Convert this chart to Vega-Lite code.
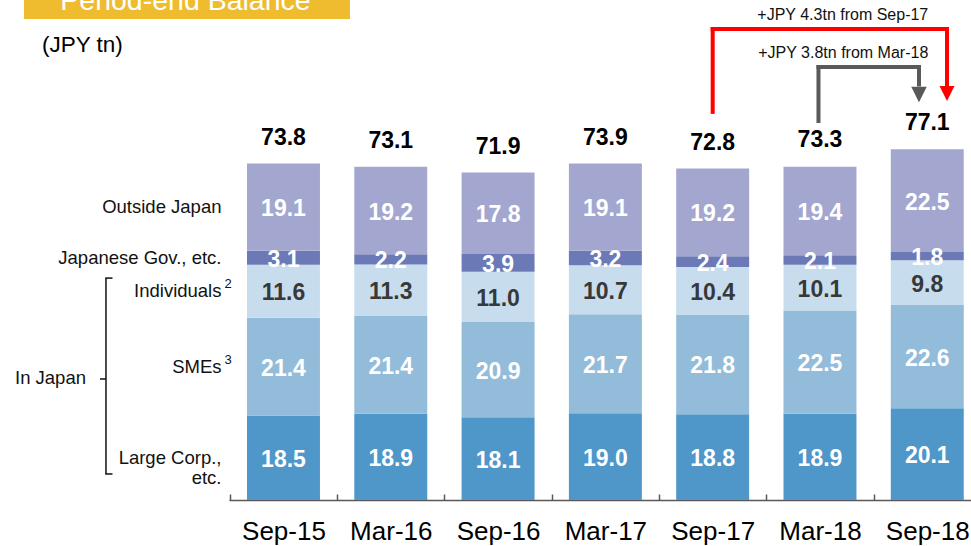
{
  "$schema": "https://vega.github.io/schema/vega-lite/v6.json",
  "width": 742,
  "height": 500,
  "autosize": {"type": "none"},
  "padding": {"left": 229, "top": 0, "right": 0, "bottom": 46},
  "background": "white",
  "config": {"view": {"stroke": null}, "font": "Liberation Sans", "text": {"font": "Liberation Sans"}},
  "datasets": {
    "balance": [
      {"period": "Sep-15", "segment": "Large Corp.,\netc.", "rank": 1, "value": 18.5},
      {"period": "Sep-15", "segment": "SMEs", "rank": 2, "value": 21.4, "note": "3"},
      {"period": "Sep-15", "segment": "Individuals", "rank": 3, "value": 11.6, "note": "2"},
      {"period": "Sep-15", "segment": "Japanese Gov., etc.", "rank": 4, "value": 3.1},
      {"period": "Sep-15", "segment": "Outside Japan", "rank": 5, "value": 19.1},
      {"period": "Mar-16", "segment": "Large Corp.,\netc.", "rank": 1, "value": 18.9},
      {"period": "Mar-16", "segment": "SMEs", "rank": 2, "value": 21.4},
      {"period": "Mar-16", "segment": "Individuals", "rank": 3, "value": 11.3},
      {"period": "Mar-16", "segment": "Japanese Gov., etc.", "rank": 4, "value": 2.2},
      {"period": "Mar-16", "segment": "Outside Japan", "rank": 5, "value": 19.2},
      {"period": "Sep-16", "segment": "Large Corp.,\netc.", "rank": 1, "value": 18.1},
      {"period": "Sep-16", "segment": "SMEs", "rank": 2, "value": 20.9},
      {"period": "Sep-16", "segment": "Individuals", "rank": 3, "value": 11.0},
      {"period": "Sep-16", "segment": "Japanese Gov., etc.", "rank": 4, "value": 3.9},
      {"period": "Sep-16", "segment": "Outside Japan", "rank": 5, "value": 17.8},
      {"period": "Mar-17", "segment": "Large Corp.,\netc.", "rank": 1, "value": 19.0},
      {"period": "Mar-17", "segment": "SMEs", "rank": 2, "value": 21.7},
      {"period": "Mar-17", "segment": "Individuals", "rank": 3, "value": 10.7},
      {"period": "Mar-17", "segment": "Japanese Gov., etc.", "rank": 4, "value": 3.2},
      {"period": "Mar-17", "segment": "Outside Japan", "rank": 5, "value": 19.1},
      {"period": "Sep-17", "segment": "Large Corp.,\netc.", "rank": 1, "value": 18.8},
      {"period": "Sep-17", "segment": "SMEs", "rank": 2, "value": 21.8},
      {"period": "Sep-17", "segment": "Individuals", "rank": 3, "value": 10.4},
      {"period": "Sep-17", "segment": "Japanese Gov., etc.", "rank": 4, "value": 2.4},
      {"period": "Sep-17", "segment": "Outside Japan", "rank": 5, "value": 19.2},
      {"period": "Mar-18", "segment": "Large Corp.,\netc.", "rank": 1, "value": 18.9},
      {"period": "Mar-18", "segment": "SMEs", "rank": 2, "value": 22.5},
      {"period": "Mar-18", "segment": "Individuals", "rank": 3, "value": 10.1},
      {"period": "Mar-18", "segment": "Japanese Gov., etc.", "rank": 4, "value": 2.1},
      {"period": "Mar-18", "segment": "Outside Japan", "rank": 5, "value": 19.4},
      {"period": "Sep-18", "segment": "Large Corp.,\netc.", "rank": 1, "value": 20.1},
      {"period": "Sep-18", "segment": "SMEs", "rank": 2, "value": 22.6},
      {"period": "Sep-18", "segment": "Individuals", "rank": 3, "value": 9.8},
      {"period": "Sep-18", "segment": "Japanese Gov., etc.", "rank": 4, "value": 1.8},
      {"period": "Sep-18", "segment": "Outside Japan", "rank": 5, "value": 22.5}
    ],
    "totals": [
      {"period": "Sep-15", "total": 73.8},
      {"period": "Mar-16", "total": 73.1},
      {"period": "Sep-16", "total": 71.9},
      {"period": "Mar-17", "total": 73.9},
      {"period": "Sep-17", "total": 72.8},
      {"period": "Mar-18", "total": 73.3},
      {"period": "Sep-18", "total": 77.1}
    ]
  },
  "layer": [
    {
      "data": {"name": "balance"},
      "mark": {"type": "bar"},
      "encoding": {
        "x": {"field": "period", "type": "nominal",
          "scale": {"domain": ["Sep-15","Mar-16","Sep-16","Mar-17","Sep-17","Mar-18","Sep-18"], "paddingInner": 0.32, "paddingOuter": 0.1176, "align": 0.713},
          "axis": {"title": null, "labelAngle": 0, "labelFont": "Liberation Sans", "labelFontSize": 26, "labelFontWeight": "normal", "labelColor": "#000000",
            "bandPosition": 0, "tickOffset": -17.17, "labelOffset": 17.17, "tickSize": -6, "tickWidth": 1.5, "tickColor": "#595959",
            "domainColor": "#595959", "domainWidth": 1.5, "labelPadding": 24}},
        "y": {"field": "value", "type": "quantitative", "stack": "zero", "scale": {"domain": [0, 109.5], "nice": false, "zero": false}, "axis": null},
        "color": {"field": "segment", "type": "nominal",
          "scale": {"domain": ["Large Corp.,\netc.", "SMEs", "Individuals", "Japanese Gov., etc.", "Outside Japan"],
                    "range": ["#4f96c9", "#93bcda", "#c7ddee", "#6b79b6", "#a3a7cf"]}, "legend": null},
        "order": {"field": "rank", "type": "quantitative"}
      }
    },
    {
      "data": {"name": "balance"},
      "mark": {"type": "text", "fontSize": 23, "fontWeight": "bold", "baseline": "middle", "dy": 2},
      "encoding": {
        "x": {"field": "period", "type": "nominal",
          "scale": {"domain": ["Sep-15","Mar-16","Sep-16","Mar-17","Sep-17","Mar-18","Sep-18"], "paddingInner": 0.32, "paddingOuter": 0.1176, "align": 0.713}},
        "y": {"field": "value", "type": "quantitative", "stack": "zero", "bandPosition": 0.5, "scale": {"domain": [0, 109.5], "nice": false, "zero": false}, "axis": null},
        "detail": {"field": "segment", "type": "nominal"},
        "order": {"field": "rank", "type": "quantitative"},
        "text": {"field": "value", "type": "quantitative", "format": ".1f"},
        "color": {"condition": {"test": "datum.segment === 'Individuals'", "value": "#383838"}, "value": "#ffffff"}
      }
    },
    {
      "data": {"name": "totals"},
      "mark": {"type": "text", "fontSize": 23, "fontWeight": "bold", "baseline": "middle", "dy": -25, "color": "#000000"},
      "encoding": {
        "x": {"field": "period", "type": "nominal",
          "scale": {"domain": ["Sep-15","Mar-16","Sep-16","Mar-17","Sep-17","Mar-18","Sep-18"], "paddingInner": 0.32, "paddingOuter": 0.1176, "align": 0.713}},
        "y": {"field": "total", "type": "quantitative", "scale": {"domain": [0, 109.5], "nice": false, "zero": false}, "axis": null},
        "text": {"field": "total", "type": "quantitative", "format": ".1f"}
      }
    },
    {
      "data": {"name": "balance"},
      "transform": [{"filter": "datum.period === 'Sep-15'"}],
      "mark": {"type": "text", "fontSize": 18.5, "align": "right", "baseline": "middle", "xOffset": -62, "lineBreak": "\n", "lineHeight": 20, "color": "#111111"},
      "encoding": {
        "x": {"field": "period", "type": "nominal",
          "scale": {"domain": ["Sep-15","Mar-16","Sep-16","Mar-17","Sep-17","Mar-18","Sep-18"], "paddingInner": 0.32, "paddingOuter": 0.1176, "align": 0.713}},
        "y": {"field": "value", "type": "quantitative", "stack": "zero", "bandPosition": 0.5, "scale": {"domain": [0, 109.5], "nice": false, "zero": false}, "axis": null},
        "detail": {"field": "segment", "type": "nominal"},
        "order": {"field": "rank", "type": "quantitative"},
        "text": {"field": "segment", "type": "nominal"}
      }
    },
    {
      "data": {"name": "balance"},
      "transform": [{"filter": "datum.period === 'Sep-15'"}],
      "mark": {"type": "text", "fontSize": 13, "align": "left", "baseline": "middle", "xOffset": -59, "dy": -7, "color": "#111111"},
      "encoding": {
        "x": {"field": "period", "type": "nominal",
          "scale": {"domain": ["Sep-15","Mar-16","Sep-16","Mar-17","Sep-17","Mar-18","Sep-18"], "paddingInner": 0.32, "paddingOuter": 0.1176, "align": 0.713}},
        "y": {"field": "value", "type": "quantitative", "stack": "zero", "bandPosition": 0.5, "scale": {"domain": [0, 109.5], "nice": false, "zero": false}, "axis": null},
        "detail": {"field": "segment", "type": "nominal"},
        "order": {"field": "rank", "type": "quantitative"},
        "text": {"condition": {"test": "datum.note", "field": "note"}, "value": ""}
      }
    },
    {
      "data": {"values": [{}]},
      "mark": {"type": "text", "text": "In Japan", "fontSize": 18.5, "align": "right", "baseline": "middle", "xOffset": -197.5, "color": "#111111"},
      "encoding": {
        "x": {"datum": "Sep-15", "type": "nominal",
          "scale": {"domain": ["Sep-15","Mar-16","Sep-16","Mar-17","Sep-17","Mar-18","Sep-18"], "paddingInner": 0.32, "paddingOuter": 0.1176, "align": 0.713}},
        "y": {"datum": 26.7, "type": "quantitative", "scale": {"domain": [0, 109.5], "nice": false, "zero": false}, "axis": null}
      }
    },
    {
      "data": {"values": [{}]},
      "mark": {"type": "rule", "color": "#111111", "strokeWidth": 1.5, "xOffset": -177.5},
      "encoding": {
        "x": {"datum": "Sep-15", "type": "nominal",
          "scale": {"domain": ["Sep-15","Mar-16","Sep-16","Mar-17","Sep-17","Mar-18","Sep-18"], "paddingInner": 0.32, "paddingOuter": 0.1176, "align": 0.713}},
        "y": {"datum": 48.6, "type": "quantitative", "scale": {"domain": [0, 109.5], "nice": false, "zero": false}, "axis": null},
        "y2": {"datum": 5.7}
      }
    },
    {
      "data": {"values": [{}]},
      "mark": {"type": "rule", "color": "#111111", "strokeWidth": 1.5, "xOffset": -178.2, "x2Offset": -171},
      "encoding": {
        "x": {"datum": "Sep-15", "type": "nominal",
          "scale": {"domain": ["Sep-15","Mar-16","Sep-16","Mar-17","Sep-17","Mar-18","Sep-18"], "paddingInner": 0.32, "paddingOuter": 0.1176, "align": 0.713}},
        "x2": {"datum": "Sep-15"},
        "y": {"datum": 48.6, "type": "quantitative", "scale": {"domain": [0, 109.5], "nice": false, "zero": false}, "axis": null}
      }
    },
    {
      "data": {"values": [{}]},
      "mark": {"type": "rule", "color": "#111111", "strokeWidth": 1.5, "xOffset": -178.2, "x2Offset": -171},
      "encoding": {
        "x": {"datum": "Sep-15", "type": "nominal",
          "scale": {"domain": ["Sep-15","Mar-16","Sep-16","Mar-17","Sep-17","Mar-18","Sep-18"], "paddingInner": 0.32, "paddingOuter": 0.1176, "align": 0.713}},
        "x2": {"datum": "Sep-15"},
        "y": {"datum": 5.7, "type": "quantitative", "scale": {"domain": [0, 109.5], "nice": false, "zero": false}, "axis": null}
      }
    },
    {
      "data": {"values": [{}]},
      "mark": {"type": "rule", "color": "#111111", "strokeWidth": 1.5, "xOffset": -183.5, "x2Offset": -177.5},
      "encoding": {
        "x": {"datum": "Sep-15", "type": "nominal",
          "scale": {"domain": ["Sep-15","Mar-16","Sep-16","Mar-17","Sep-17","Mar-18","Sep-18"], "paddingInner": 0.32, "paddingOuter": 0.1176, "align": 0.713}},
        "x2": {"datum": "Sep-15"},
        "y": {"datum": 26.5, "type": "quantitative", "scale": {"domain": [0, 109.5], "nice": false, "zero": false}, "axis": null}
      }
    },
    {
      "data": {"values": [{}]},
      "mark": {"type": "rule", "color": "#efbc2f", "strokeWidth": 19, "strokeCap": "butt", "xOffset": -259.5, "x2Offset": 66.5},
      "encoding": {
        "x": {"datum": "Sep-15", "type": "nominal",
          "scale": {"domain": ["Sep-15","Mar-16","Sep-16","Mar-17","Sep-17","Mar-18","Sep-18"], "paddingInner": 0.32, "paddingOuter": 0.1176, "align": 0.713}},
        "x2": {"datum": "Sep-15"},
        "y": {"datum": 107.42, "type": "quantitative", "scale": {"domain": [0, 109.5], "nice": false, "zero": false}, "axis": null}
      }
    },
    {
      "data": {"values": [{}]},
      "mark": {"type": "text", "text": "Period-end Balance", "fontSize": 28.5, "align": "center", "baseline": "alphabetic", "xOffset": -98, "color": "#ffffff"},
      "encoding": {
        "x": {"datum": "Sep-15", "type": "nominal",
          "scale": {"domain": ["Sep-15","Mar-16","Sep-16","Mar-17","Sep-17","Mar-18","Sep-18"], "paddingInner": 0.32, "paddingOuter": 0.1176, "align": 0.713}},
        "y": {"datum": 107.3, "type": "quantitative", "scale": {"domain": [0, 109.5], "nice": false, "zero": false}, "axis": null}
      }
    },
    {
      "data": {"values": [{}]},
      "mark": {"type": "text", "text": "(JPY tn)", "fontSize": 22.5, "align": "left", "baseline": "middle", "xOffset": -241.5, "color": "#000000"},
      "encoding": {
        "x": {"datum": "Sep-15", "type": "nominal",
          "scale": {"domain": ["Sep-15","Mar-16","Sep-16","Mar-17","Sep-17","Mar-18","Sep-18"], "paddingInner": 0.32, "paddingOuter": 0.1176, "align": 0.713}},
        "y": {"datum": 99.65, "type": "quantitative", "scale": {"domain": [0, 109.5], "nice": false, "zero": false}, "axis": null}
      }
    },
    {
      "data": {"values": [{}]},
      "mark": {"type": "rule", "color": "#ff0000", "strokeWidth": 4, "strokeCap": "square"},
      "encoding": {
        "x": {"datum": "Sep-17", "type": "nominal",
          "scale": {"domain": ["Sep-15","Mar-16","Sep-16","Mar-17","Sep-17","Mar-18","Sep-18"], "paddingInner": 0.32, "paddingOuter": 0.1176, "align": 0.713}},
        "y": {"datum": 85.0, "type": "quantitative", "scale": {"domain": [0, 109.5], "nice": false, "zero": false}, "axis": null},
        "y2": {"datum": 103.15}
      }
    },
    {
      "data": {"values": [{}]},
      "mark": {"type": "rule", "color": "#ff0000", "strokeWidth": 4, "strokeCap": "square", "x2Offset": 19.7},
      "encoding": {
        "x": {"datum": "Sep-17", "type": "nominal",
          "scale": {"domain": ["Sep-15","Mar-16","Sep-16","Mar-17","Sep-17","Mar-18","Sep-18"], "paddingInner": 0.32, "paddingOuter": 0.1176, "align": 0.713}},
        "x2": {"datum": "Sep-18"},
        "y": {"datum": 103.15, "type": "quantitative", "scale": {"domain": [0, 109.5], "nice": false, "zero": false}, "axis": null}
      }
    },
    {
      "data": {"values": [{}]},
      "mark": {"type": "rule", "color": "#ff0000", "strokeWidth": 4, "strokeCap": "square", "xOffset": 19.7},
      "encoding": {
        "x": {"datum": "Sep-18", "type": "nominal",
          "scale": {"domain": ["Sep-15","Mar-16","Sep-16","Mar-17","Sep-17","Mar-18","Sep-18"], "paddingInner": 0.32, "paddingOuter": 0.1176, "align": 0.713}},
        "y": {"datum": 103.15, "type": "quantitative", "scale": {"domain": [0, 109.5], "nice": false, "zero": false}, "axis": null},
        "y2": {"datum": 91.0}
      }
    },
    {
      "data": {"values": [{}]},
      "mark": {"type": "point", "shape": "M-1,-1L1,-1L0,1Z", "size": 225, "filled": true, "opacity": 1, "color": "#ff0000", "xOffset": 19.7},
      "encoding": {
        "x": {"datum": "Sep-18", "type": "nominal",
          "scale": {"domain": ["Sep-15","Mar-16","Sep-16","Mar-17","Sep-17","Mar-18","Sep-18"], "paddingInner": 0.32, "paddingOuter": 0.1176, "align": 0.713}},
        "y": {"datum": 89.0, "type": "quantitative", "scale": {"domain": [0, 109.5], "nice": false, "zero": false}, "axis": null}
      }
    },
    {
      "data": {"values": [{}]},
      "mark": {"type": "rule", "color": "#595959", "strokeWidth": 4, "strokeCap": "square", "xOffset": -1.5},
      "encoding": {
        "x": {"datum": "Mar-18", "type": "nominal",
          "scale": {"domain": ["Sep-15","Mar-16","Sep-16","Mar-17","Sep-17","Mar-18","Sep-18"], "paddingInner": 0.32, "paddingOuter": 0.1176, "align": 0.713}},
        "y": {"datum": 83.0, "type": "quantitative", "scale": {"domain": [0, 109.5], "nice": false, "zero": false}, "axis": null},
        "y2": {"datum": 94.83}
      }
    },
    {
      "data": {"values": [{}]},
      "mark": {"type": "rule", "color": "#595959", "strokeWidth": 4, "strokeCap": "square", "xOffset": -1.5, "x2Offset": -8.3},
      "encoding": {
        "x": {"datum": "Mar-18", "type": "nominal",
          "scale": {"domain": ["Sep-15","Mar-16","Sep-16","Mar-17","Sep-17","Mar-18","Sep-18"], "paddingInner": 0.32, "paddingOuter": 0.1176, "align": 0.713}},
        "x2": {"datum": "Sep-18"},
        "y": {"datum": 94.83, "type": "quantitative", "scale": {"domain": [0, 109.5], "nice": false, "zero": false}, "axis": null}
      }
    },
    {
      "data": {"values": [{}]},
      "mark": {"type": "rule", "color": "#595959", "strokeWidth": 4, "strokeCap": "square", "xOffset": -8.3},
      "encoding": {
        "x": {"datum": "Sep-18", "type": "nominal",
          "scale": {"domain": ["Sep-15","Mar-16","Sep-16","Mar-17","Sep-17","Mar-18","Sep-18"], "paddingInner": 0.32, "paddingOuter": 0.1176, "align": 0.713}},
        "y": {"datum": 94.83, "type": "quantitative", "scale": {"domain": [0, 109.5], "nice": false, "zero": false}, "axis": null},
        "y2": {"datum": 91.0}
      }
    },
    {
      "data": {"values": [{}]},
      "mark": {"type": "point", "shape": "M-1,-1L1,-1L0,1Z", "size": 240, "filled": true, "opacity": 1, "color": "#595959", "xOffset": -8.3},
      "encoding": {
        "x": {"datum": "Sep-18", "type": "nominal",
          "scale": {"domain": ["Sep-15","Mar-16","Sep-16","Mar-17","Sep-17","Mar-18","Sep-18"], "paddingInner": 0.32, "paddingOuter": 0.1176, "align": 0.713}},
        "y": {"datum": 88.8, "type": "quantitative", "scale": {"domain": [0, 109.5], "nice": false, "zero": false}, "axis": null}
      }
    },
    {
      "data": {"values": [{}]},
      "mark": {"type": "text", "text": "+JPY 4.3tn from Sep-17", "fontSize": 16, "align": "right", "baseline": "middle", "xOffset": 1, "color": "#111111"},
      "encoding": {
        "x": {"datum": "Sep-18", "type": "nominal",
          "scale": {"domain": ["Sep-15","Mar-16","Sep-16","Mar-17","Sep-17","Mar-18","Sep-18"], "paddingInner": 0.32, "paddingOuter": 0.1176, "align": 0.713}},
        "y": {"datum": 106.2, "type": "quantitative", "scale": {"domain": [0, 109.5], "nice": false, "zero": false}, "axis": null}
      }
    },
    {
      "data": {"values": [{}]},
      "mark": {"type": "text", "text": "+JPY 3.8tn from Mar-18", "fontSize": 16, "align": "right", "baseline": "middle", "xOffset": 1, "color": "#111111"},
      "encoding": {
        "x": {"datum": "Sep-18", "type": "nominal",
          "scale": {"domain": ["Sep-15","Mar-16","Sep-16","Mar-17","Sep-17","Mar-18","Sep-18"], "paddingInner": 0.32, "paddingOuter": 0.1176, "align": 0.713}},
        "y": {"datum": 97.9, "type": "quantitative", "scale": {"domain": [0, 109.5], "nice": false, "zero": false}, "axis": null}
      }
    }
  ]
}
